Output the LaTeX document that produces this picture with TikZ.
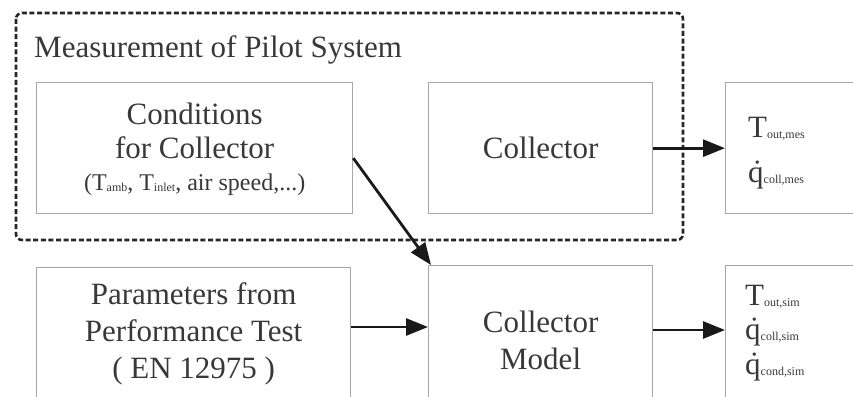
\documentclass[tikz,border=0pt]{standalone}
\usepackage{fontspec}
\setmainfont{Liberation Serif}
\usetikzlibrary{arrows.meta}

\newcommand{\idx}[1]{\raisebox{-1pt}{\fontsize{12}{12}\selectfont #1}}
\newcommand{\smidx}[1]{\raisebox{-1pt}{\fontsize{12}{12}\selectfont #1}}

\tikzset{
  block/.style={draw=black!35, line width=1.3pt, anchor=north west, inner sep=0pt, align=center},
  flow/.style={-{Triangle[length=22pt,width=17pt]}, line width=2.8pt, black!90},
  pilot/.style={line width=2.6pt, dash pattern=on 5pt off 2.6pt, rounded corners=6pt, black!85},
  outtext/.style={anchor=base west, inner sep=0pt}
}

\begin{document}
\begin{tikzpicture}[x=1pt, y=-1pt, font=\fontsize{31}{37}\selectfont, text=black!78]
\useasboundingbox (0,0) rectangle (853,396);

% measurement frame
\draw[pilot] (16,13) rectangle (683,240);
\node[outtext] (title) at (34,58) {Measurement of Pilot System};

% blocks
\node[block, minimum width=316pt, minimum height=131pt] (cond) at (36,82) {};
\node (condtxt) at (cond.center) [align=center, inner sep=0pt, yshift=-1pt]
  {Conditions\\[-3pt] for Collector\\[-5pt]
   {\fontsize{24}{28}\selectfont (T\smidx{amb}, T\smidx{inlet}, air speed,...)}};
\node[block, minimum width=224pt, minimum height=131pt] (coll) at (428,82) {Collector};
\node[block, minimum width=160pt, minimum height=131pt] (outmes) at (725,82) {};

\node[block, minimum width=314pt, minimum height=132pt] (param) at (36,267)
  {Parameters from\\ Performance Test\\ ( EN 12975 )};
\node[block, minimum width=224pt, minimum height=150pt] (model) at (428,265)
  {Collector\\ Model};
\node[block, minimum width=160pt, minimum height=150pt] (outsim) at (725,265) {};

% results
\node[outtext] (tmes) at (748,137) {T\idx{out,mes}};
\node[outtext] (qmes) at (748,182) {\.{q}\idx{coll,mes}};
\node[outtext] (tsim) at (745,305) {T\idx{out,sim}};
\node[outtext] (qsim) at (745,339) {\.{q}\idx{coll,sim}};
\node[outtext] (qcond) at (745,374) {\.{q}\idx{cond,sim}};

% connections
\draw[flow] (coll.east) -- (outmes.west |- coll.east);
\draw[flow] ([yshift=-10pt]cond.east) -- ([xshift=3pt]model.north west);
\draw[flow] (param.east |- 0,327) -- (model.west |- 0,327);
\draw[flow] (model.east |- 0,330) -- (outsim.west |- 0,330);
\end{tikzpicture}
\end{document}
